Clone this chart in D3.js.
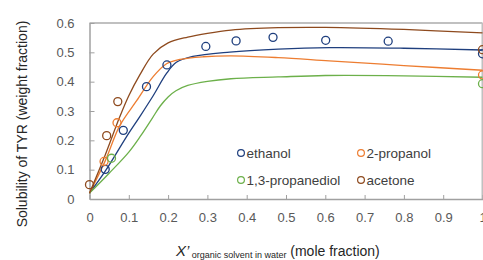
<!DOCTYPE html>
<html><head><meta charset="utf-8">
<script src="https://cdn.jsdelivr.net/npm/d3@7"></script>
<style>body{margin:0;background:#fff}svg{display:block}</style>
</head><body>
<svg id="c" width="483" height="260"></svg>
<script>
const xTicks = [0,0.1,0.2,0.3,0.4,0.5,0.6,0.7,0.8,0.9,1];
const yTicks = [0,0.1,0.2,0.3,0.4,0.5,0.6];
const seriesNames = ["ethanol","2-propanol","1,3-propanediol","acetone"];
const seriesColors = ["#1f3f7e","#ed7d31","#6cb04a","#8e4a1e"];

// measured points
const ethanolPts = [[0.04,0.101],[0.086,0.234],[0.145,0.383],[0.197,0.457],[0.296,0.52],[0.373,0.539],[0.467,0.551],[0.601,0.541],[0.760,0.538],[1.0,0.495]];
const propanolPts = [[0.037,0.128],[0.070,0.26],[1.0,0.423]];
const propanediolPts = [[0.056,0.139],[1.0,0.393]];
const acetonePts = [[0,0.049],[0.0437,0.216],[0.072,0.332],[1.0,0.509]];

// model curves
const ethanolCurve = [[0,0.02],[0.04,0.095],[0.094,0.212],[0.128,0.281],[0.162,0.352],[0.196,0.428],[0.221,0.466],[0.263,0.486],[0.357,0.501],[0.48,0.511],[0.61,0.516],[0.8,0.514],[1.0,0.508]];
const propanolCurve = [[0,0.02],[0.04,0.13],[0.077,0.25],[0.12,0.335],[0.162,0.417],[0.196,0.461],[0.23,0.476],[0.29,0.485],[0.36,0.488],[0.48,0.482],[0.61,0.471],[0.8,0.455],[1.0,0.439]];
const propanediolCurve = [[0,0.02],[0.05,0.088],[0.1,0.16],[0.13,0.215],[0.16,0.276],[0.18,0.317],[0.2,0.348],[0.22,0.369],[0.25,0.387],[0.3,0.401],[0.36,0.41],[0.48,0.416],[0.6,0.421],[0.8,0.42],[1.0,0.415]];
const acetoneCurve = [[0,0.02],[0.04,0.15],[0.077,0.28],[0.1,0.352],[0.128,0.423],[0.162,0.494],[0.2,0.532],[0.25,0.552],[0.3,0.565],[0.36,0.576],[0.48,0.584],[0.6,0.585],[0.8,0.578],[1.0,0.566]];

const pts = [ethanolPts, propanolPts, propanediolPts, acetonePts];
const curves = [ethanolCurve, propanolCurve, propanediolCurve, acetoneCurve];

const svg = d3.select("#c");
const x = d3.scaleLinear().domain([0,1]).range([89.5,482.5]);
const y = d3.scaleLinear().domain([0,0.6]).range([199,23]);
const font = "'Liberation Sans', Arial, sans-serif";

// frame top & right
svg.append("line").attr("x1",x(0)).attr("x2",x(1)).attr("y1",y(0.6)).attr("y2",y(0.6)).attr("stroke","#c0c0c0").attr("stroke-width",2);
svg.append("line").attr("x1",x(1)).attr("x2",x(1)).attr("y1",y(0.6)).attr("y2",y(0)).attr("stroke","#c0c0c0").attr("stroke-width",2);

// axes
const gx = svg.append("g").attr("transform",`translate(0,${y(0)})`)
  .call(d3.axisBottom(x).tickValues(xTicks).tickSizeInner(-4).tickSizeOuter(0).tickPadding(14).tickFormat(d=>d===0?"0":d3.format("")(d)));
const gy = svg.append("g").attr("transform",`translate(${x(0)},0)`)
  .call(d3.axisLeft(y).tickValues(yTicks).tickSizeInner(-5).tickSizeOuter(0).tickPadding(15).tickFormat(d=>d===0?"0":d3.format("")(d)));
[gx,gy].forEach(g=>{
  g.select(".domain").attr("stroke","#a0a0a0").attr("stroke-width",1.5);
  g.selectAll(".tick line").attr("stroke","#a0a0a0").attr("stroke-width",1);
  g.selectAll(".tick text").attr("fill","#595959").style("font-family",font).style("font-size","13px");
});

// curves
const line = d3.line().x(d=>x(d[0])).y(d=>y(d[1])).curve(d3.curveCatmullRom.alpha(0.5));
curves.forEach((c,i)=>{
  svg.append("path").datum(c).attr("d",line).attr("fill","none").attr("stroke",seriesColors[i]).attr("stroke-width",1.3);
});
// points
pts.forEach((p,i)=>{
  svg.append("g").selectAll("circle").data(p).join("circle")
    .attr("cx",d=>x(d[0])).attr("cy",d=>y(d[1])).attr("r",4)
    .attr("fill","none").attr("stroke",seriesColors[i]).attr("stroke-width",1.3);
});

// legend
const legPos = [[241,153],[361,153],[241,180],[361,180]];
seriesNames.forEach((n,i)=>{
  const [lx,ly] = legPos[i];
  svg.append("circle").attr("cx",lx).attr("cy",ly).attr("r",3.4).attr("fill","#fff").attr("stroke",seriesColors[i]).attr("stroke-width",1.2);
  svg.append("text").attr("x",lx+5.5).attr("y",ly+5).text(n).attr("fill","#404040").style("font-family",font).style("font-size","13.5px");
});

// y title
svg.append("text").attr("transform","translate(27,124) rotate(-90)").attr("text-anchor","middle")
  .text("Solubility of TYR (weight fraction)").attr("fill","#262626").style("font-family",font).style("font-size","14px");

// x title
const xt = svg.append("text").attr("x",176).attr("y",256).attr("fill","#262626").style("font-family",font).style("font-size","14px");
xt.append("tspan").text("X’").style("font-style","italic").style("font-size","15px");
xt.append("tspan").text(" organic solvent in water").style("font-size","9px").attr("dy",2);
xt.append("tspan").text(" (mole fraction)").attr("dy",-2);
</script>
</body></html>
